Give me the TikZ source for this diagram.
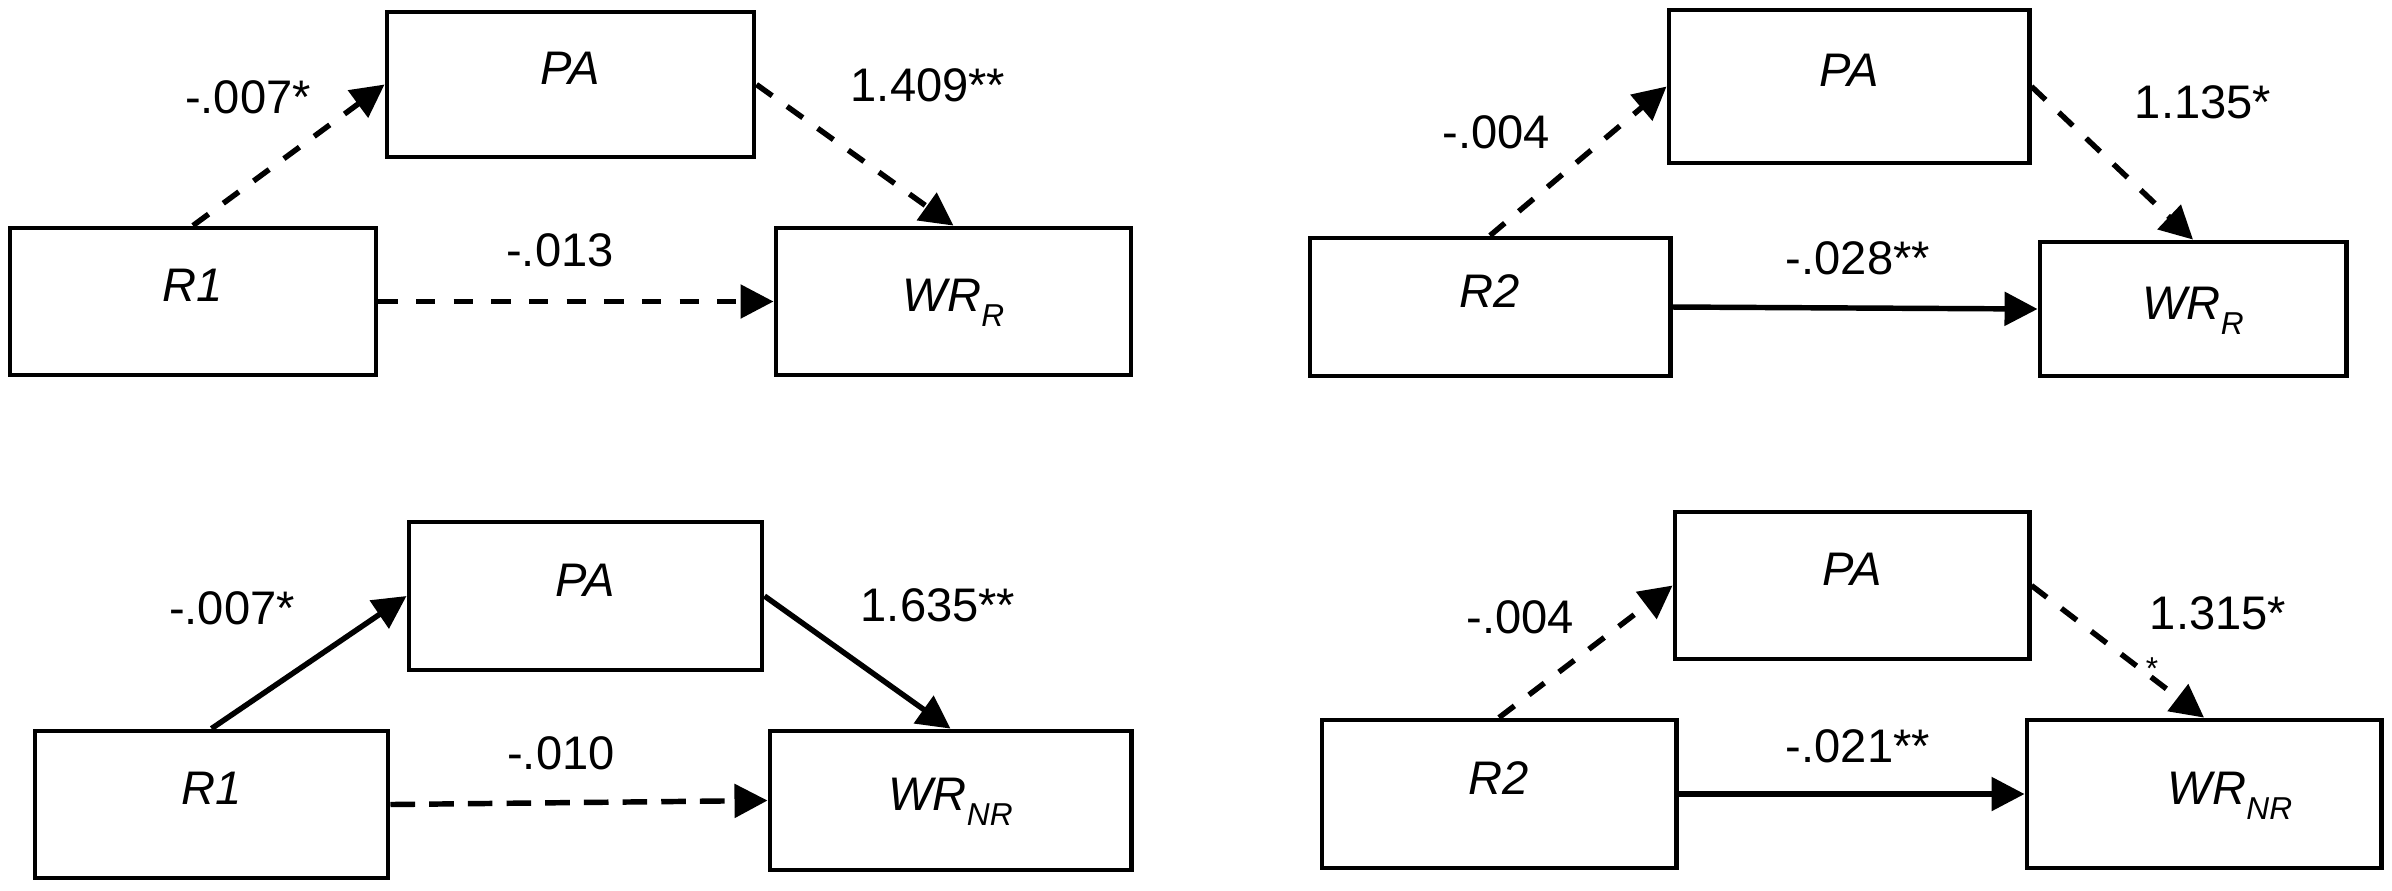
\documentclass[tikz,border=0pt]{standalone}
\usepackage{fontspec}
\setmainfont{Liberation Sans}
\usetikzlibrary{arrows.meta}

\newcommand{\lowsub}[1]{\raisebox{-4.3pt}{\fontsize{9pt}{10pt}\selectfont\itshape #1}}

\tikzset{
  box/.style={draw, line width=1.35pt, inner sep=0pt,
    font=\fontsize{13.4pt}{15pt}\selectfont\itshape,
    text height=0.35cm, text depth=0.35cm},
  wrbox/.style={box, text height=0.45cm, text depth=0.25cm},
  coef/.style={inner sep=0pt, font=\fontsize{13.4pt}{15pt}\selectfont},
  solidarrow/.style={line width=1.55pt, -{Triangle[length=3.3mm,width=3.3mm]}},
  dasharrow/.style={solidarrow, dash pattern=on 5.5pt off 5.2pt},
}

\begin{document}
\begin{tikzpicture}[x=0.01cm, y=-0.01cm]
  \useasboundingbox (0,0) rectangle (2392,890);

  % R1 -> PA -> WR_R
  \node[box, minimum width=3.67cm, minimum height=1.45cm] (pa1) at (570.5,84.5) {PA};
  \node[box, minimum width=3.66cm, minimum height=1.47cm] (r1a) at (193,301.5) {R1};
  \node[wrbox, minimum width=3.55cm, minimum height=1.47cm] (wr1) at (953.5,301.5) {WR\lowsub{R}};
  \draw[dasharrow] (r1a.north) -- (pa1.west);
  \draw[dasharrow] (pa1.east) -- (wr1.north);
  \draw[dasharrow] (r1a.east) -- (wr1.west);
  \node[coef] (c1a) at (248,97) {-.007*};
  \node[coef] (c1b) at (928,85) {1.409**};
  \node[coef] (c1c) at (560,250) {-.013};

  % R2 -> PA -> WR_R
  \node[box, minimum width=3.60cm, minimum height=1.53cm] (pa2) at (1849,86.5) {PA};
  \node[box, minimum width=3.60cm, minimum height=1.38cm] (r2a) at (1490,307) {R2};
  \node[wrbox, minimum width=3.06cm, minimum height=1.34cm] (wr2) at (2193,309) {WR\lowsub{R}};
  \draw[dasharrow] (r2a.north) -- (pa2.west);
  \draw[dasharrow] (pa2.east) -- (wr2.north);
  \draw[solidarrow] (r2a.east) -- (wr2.west);
  \node[coef] (c2a) at (1496,132) {-.004};
  \node[coef] (c2b) at (2203,102) {1.135*};
  \node[coef] (c2c) at (1858,258) {-.028**};

  % R1 -> PA -> WR_NR
  \node[box, minimum width=3.53cm, minimum height=1.48cm] (pa3) at (585.5,596) {PA};
  \node[box, minimum width=3.53cm, minimum height=1.47cm] (r1b) at (211.5,804.5) {R1};
  \node[wrbox, minimum width=3.61cm, minimum height=1.39cm] (wr3) at (950.5,800.5) {WR\lowsub{NR}};
  \draw[solidarrow] (r1b.north) -- (pa3.west);
  \draw[solidarrow] (pa3.east) -- (wr3.north);
  \draw[dasharrow, dash pattern=on 7pt off 4pt] (r1b.east) -- (wr3.west);
  \node[coef] (c3a) at (232,608) {-.007*};
  \node[coef] (c3b) at (938,605) {1.635**};
  \node[coef] (c3c) at (561,753) {-.010};

  % R2 -> PA -> WR_NR
  \node[box, minimum width=3.54cm, minimum height=1.47cm] (pa4) at (1852,585.5) {PA};
  \node[box, minimum width=3.54cm, minimum height=1.48cm] (r2b) at (1499,794) {R2};
  \node[wrbox, minimum width=3.54cm, minimum height=1.48cm] (wr4) at (2204,794) {\hspace*{0.52cm}WR\lowsub{NR}};
  \draw[dasharrow] (r2b.north) -- (pa4.west);
  \draw[dasharrow] (pa4.east) -- (wr4.north);
  \draw[solidarrow] (r2b.east) -- (wr4.west);
  \node[coef] (c4a) at (1520,617) {-.004};
  \node[coef] (c4b) at (2218,613) {1.315*};
  \node[coef, font=\fontsize{9pt}{10pt}\selectfont] (c4d) at (2152,669) {*};
  \node[coef] (c4c) at (1858,746) {-.021**};
\end{tikzpicture}
\end{document}
